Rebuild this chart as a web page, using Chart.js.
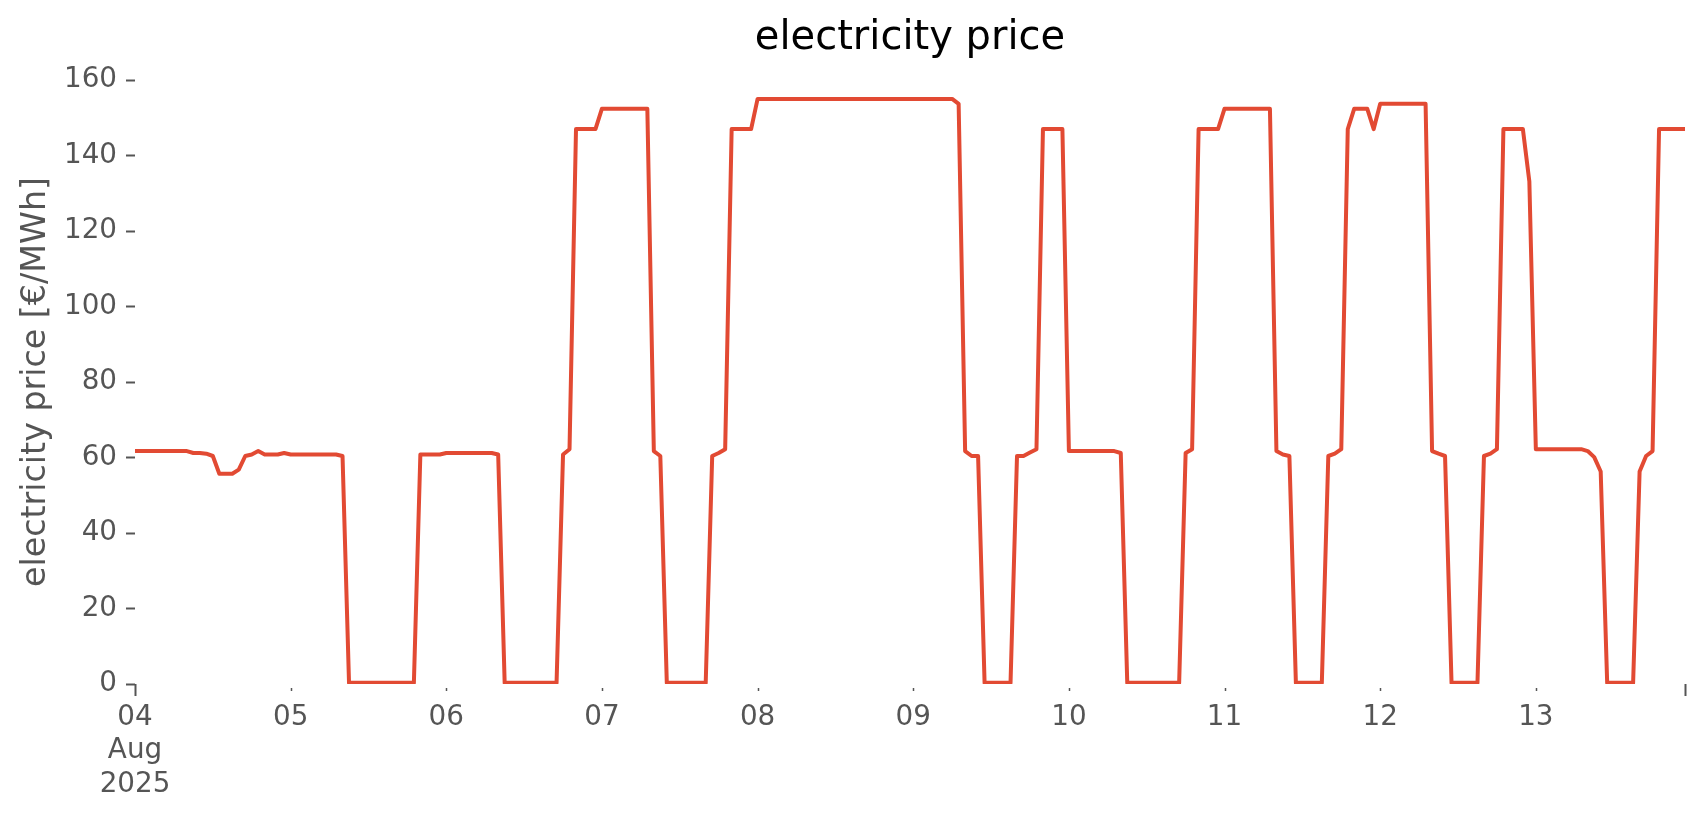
<!DOCTYPE html>
<html>
<head>
<meta charset="utf-8">
<title>electricity price</title>
<script src="https://cdn.jsdelivr.net/npm/chart.js@4"></script>
<style>
    body { margin: 0; background: #fff; }
    #wrap { width: 1706px; height: 815px; }
</style>
</head>
<body>
<div id="wrap"><canvas id="priceChart" width="1706" height="815"></canvas></div>
<script>
// Hourly day-ahead prices in EUR/MWh, one array per day (00:00 .. 23:00)
const aug04 = [61.7, 61.7, 61.7, 61.7, 61.7, 61.7, 61.7, 61.7, 61.7, 61.2, 61.2, 61.0,
               60.4, 55.7, 55.7, 55.7, 56.8, 60.4, 60.8, 61.7, 60.8, 60.8, 60.8, 61.2];
const aug05 = [60.8, 60.8, 60.8, 60.8, 60.8, 60.8, 60.8, 60.8, 60.4, 0.3, 0.3, 0.3,
               0.3, 0.3, 0.3, 0.3, 0.3, 0.3, 0.3, 0.3, 60.8, 60.8, 60.8, 60.8];
const aug06 = [61.2, 61.2, 61.2, 61.2, 61.2, 61.2, 61.2, 61.2, 60.8, 0.3, 0.3, 0.3,
               0.3, 0.3, 0.3, 0.3, 0.3, 0.3, 60.8, 62.2, 147.0, 147.0, 147.0, 147.0];
const aug07 = [152.4, 152.4, 152.4, 152.4, 152.4, 152.4, 152.4, 152.4, 61.7, 60.4, 0.3, 0.3,
               0.3, 0.3, 0.3, 0.3, 0.3, 60.4, 61.2, 62.2, 147.0, 147.0, 147.0, 147.0];
const aug08 = [155.0, 155.0, 155.0, 155.0, 155.0, 155.0, 155.0, 155.0, 155.0, 155.0, 155.0, 155.0,
               155.0, 155.0, 155.0, 155.0, 155.0, 155.0, 155.0, 155.0, 155.0, 155.0, 155.0, 155.0];
const aug09 = [155.0, 155.0, 155.0, 155.0, 155.0, 155.0, 155.0, 153.7, 61.7, 60.4, 60.4, 0.3,
               0.3, 0.3, 0.3, 0.3, 60.4, 60.4, 61.3, 62.2, 147.0, 147.0, 147.0, 147.0];
const aug10 = [61.7, 61.7, 61.7, 61.7, 61.7, 61.7, 61.7, 61.7, 61.2, 0.3, 0.3, 0.3,
               0.3, 0.3, 0.3, 0.3, 0.3, 0.3, 61.2, 62.2, 147.0, 147.0, 147.0, 147.0];
const aug11 = [152.4, 152.4, 152.4, 152.4, 152.4, 152.4, 152.4, 152.4, 61.7, 60.8, 60.4, 0.3,
               0.3, 0.3, 0.3, 0.3, 60.4, 61.0, 62.2, 147.0, 152.4, 152.4, 152.4, 147.0];
const aug12 = [153.7, 153.7, 153.7, 153.7, 153.7, 153.7, 153.7, 153.7, 61.7, 61.0, 60.4, 0.3,
               0.3, 0.3, 0.3, 0.3, 60.4, 61.0, 62.2, 147.0, 147.0, 147.0, 147.0, 133.1];
const aug13 = [62.2, 62.2, 62.2, 62.2, 62.2, 62.2, 62.2, 62.2, 61.7, 60.1, 56.3, 0.3,
               0.3, 0.3, 0.3, 0.3, 56.3, 60.4, 61.7, 147.0, 147.0, 147.0, 147.0, 147.0];

// x tick positions (hours since 04 Aug 00:00) and their labels
const dayTicks = [0, 24, 48, 72, 96, 120, 144, 168, 192, 216];
const dayLabels = ['04', '05', '06', '07', '08', '09', '10', '11', '12', '13'];
const firstLabel = ['04', 'Aug', '2025'];
const lastHour = 239;
const yTicks = [0, 20, 40, 60, 80, 100, 120, 140, 160];

const prices = [].concat(aug04, aug05, aug06, aug07, aug08, aug09, aug10, aug11, aug12, aug13);
const points = prices.map((p, h) => ({ x: h, y: p }));

const TEXT_GREY = '#555555';
Chart.defaults.font.family = "'DejaVu Sans', sans-serif";

// Title centred over the plot area, plus the small date ticks under the x axis
const decorations = {
    id: 'decorations',
    afterDraw(chart) {
        const { ctx, chartArea } = chart;
        const xScale = chart.scales.x;
        ctx.save();
        ctx.fillStyle = '#000';
        ctx.font = "40px 'DejaVu Sans'";
        ctx.textAlign = 'center';
        ctx.textBaseline = 'middle';
        ctx.fillText('electricity price', (chartArea.left + chartArea.right) / 2, 39);

        ctx.strokeStyle = TEXT_GREY;
        xScale.ticks.forEach((t, i) => {
            const px = Math.round(xScale.getPixelForValue(t.value)) + 0.5;
            const major = (i === 0 || i === xScale.ticks.length - 1);
            ctx.lineWidth = major ? 2 : 1.5;
            ctx.beginPath();
            ctx.moveTo(px, chartArea.bottom + (major ? 0 : 4));
            ctx.lineTo(px, chartArea.bottom + (major ? 12 : 7));
            ctx.stroke();
        });
        ctx.restore();
    }
};

new Chart(document.getElementById('priceChart').getContext('2d'), {
    type: 'line',
    data: {
        datasets: [{
            label: 'electricity price',
            data: points,
            borderColor: '#E24A33',
            borderWidth: 4,
            borderJoinStyle: 'round',
            pointRadius: 0,
            tension: 0,
            fill: false
        }]
    },
    options: {
        responsive: false,
        animation: false,
        devicePixelRatio: 1,
        layout: { padding: { top: 80, right: 21, left: 0, bottom: 0 } },
        plugins: {
            legend: { display: false },
            title: { display: false },
            tooltip: { enabled: false }
        },
        scales: {
            x: {
                type: 'linear',
                min: 0,
                max: lastHour,
                border: { display: false },
                grid: { display: true, drawOnChartArea: false, drawTicks: false },
                afterBuildTicks: (scale) => {
                    scale.ticks = dayTicks.concat([lastHour]).map(v => ({ value: v }));
                },
                afterFit: (scale) => { scale.height = 131; },
                ticks: {
                    autoSkip: false,
                    maxRotation: 0,
                    padding: 17,
                    color: TEXT_GREY,
                    font: { size: 27.8 },
                    callback: (value) => {
                        const i = dayTicks.indexOf(value);
                        if (i === 0) return firstLabel;
                        return i > 0 ? dayLabels[i] : '';
                    }
                }
            },
            y: {
                min: 0,
                max: 160,
                border: { display: false },
                grid: {
                    drawOnChartArea: false,
                    drawTicks: true,
                    tickLength: 9,
                    tickColor: TEXT_GREY,
                    tickWidth: 2
                },
                afterBuildTicks: (scale) => {
                    scale.ticks = yTicks.map(v => ({ value: v }));
                },
                afterFit: (scale) => { scale.width = 135; },
                ticks: {
                    padding: 9,
                    color: TEXT_GREY,
                    font: { size: 27.8 }
                },
                title: {
                    display: true,
                    text: 'electricity price [€/MWh]',
                    color: TEXT_GREY,
                    font: { size: 33.3 },
                    padding: { top: 16, bottom: 0 }
                }
            }
        }
    },
    plugins: [decorations]
});
</script>
</body>
</html>
